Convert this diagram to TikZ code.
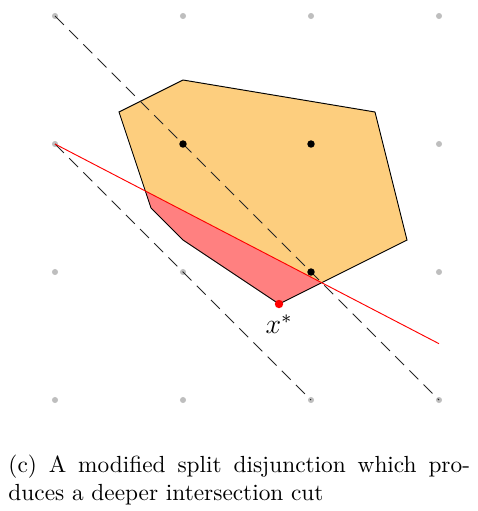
\documentclass[tikz,border=0pt]{standalone}
\usepackage{xcolor}
\definecolor{polyfill}{RGB}{253,206,126}
\definecolor{cutfill}{RGB}{255,128,128}
\definecolor{gridgray}{RGB}{190,190,190}
\usetikzlibrary{positioning,calc}

\begin{document}
\begin{tikzpicture}[x=1.93cm, y=1.93cm,
  gridpt/.style={circle, fill=gridgray, inner sep=0pt, minimum size=2.6pt},
  intpt/.style={circle, fill=black, inner sep=0pt, minimum size=3.2pt},
  optpt/.style={circle, fill=red, inner sep=0pt, minimum size=3.6pt},
  split/.style={draw=black!85, dash pattern=on 5.4pt off 3.2pt},
  cutline/.style={draw=red}
]
\useasboundingbox (-0.4297,-0.867) rectangle (3.297,3.125);

\foreach \i in {0,...,3}
  \foreach \j in {0,...,3}
    \node[gridpt] (g-\i-\j) at (\i,\j) {};

\coordinate (a) at (0.5,2.25);
\coordinate (b) at (1,2.5);
\coordinate (c) at (2.5,2.25);
\coordinate (d) at (2.75,1.25);
\coordinate (xs) at (1.75,0.75);
\coordinate (e) at (1,1.25);
\coordinate (f) at (0.75,1.5);
\coordinate (r) at ($(xs)!1/3!(d)$);
\coordinate (l) at ($(a)!0.8226!(f)$);
\coordinate (cutend) at ($(g-0-2.center)!1.44!(r)$);

\fill[polyfill] (a) -- (b) -- (c) -- (d) -- (xs) -- (e) -- (f) -- cycle;
\fill[cutfill] (l) -- (f) -- (e) -- (xs) -- (r) -- cycle;
\draw (a) -- (b) -- (c) -- (d) -- (xs) -- (e) -- (f) -- cycle;

\draw[split] (g-0-3.center) -- (g-3-0.center);
\draw[split] (g-0-2.center) -- (g-2-0.center);
\draw[cutline] (g-0-2.center) -- (cutend);

\node[intpt] (z12) at (1,2) {};
\node[intpt] (z22) at (2,2) {};
\node[intpt] (z21) at (2,1) {};
\node[optpt] (xstar) at (xs) {};
\node[below=2.5pt of xstar, inner sep=0pt, font=\large] (xlabel) {$x^*$};

\node[anchor=north west, inner sep=0pt, text width=198pt, align=justify] (caption) at (-0.367,-0.426)
  {(c) A modified split disjunction which pro-\linebreak duces a deeper intersection cut};
\end{tikzpicture}
\end{document}
